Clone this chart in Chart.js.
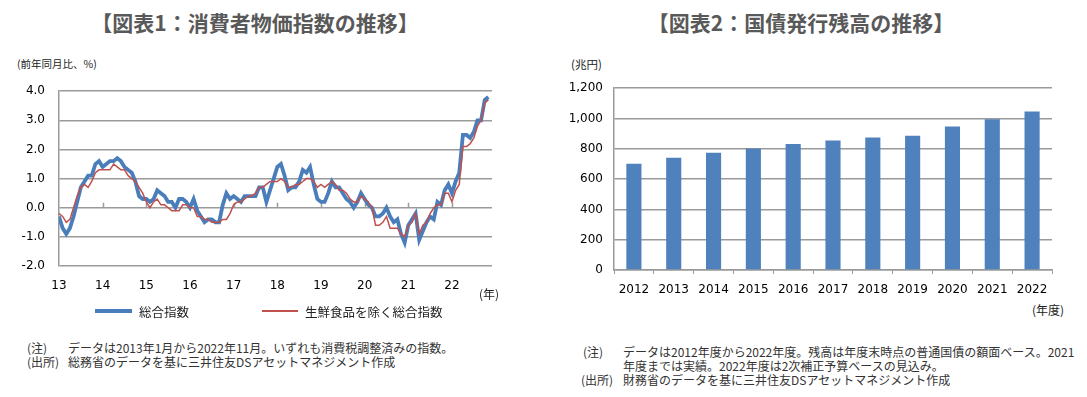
<!DOCTYPE html>
<html><head><meta charset="utf-8">
<script src="https://cdn.jsdelivr.net/npm/chart.js@4/dist/chart.umd.min.js"></script>
<style>
body{margin:0;width:1087px;height:397px;background:#fff;position:relative;font-family:"Noto Sans CJK JP",sans-serif;overflow:hidden}
.abs{position:absolute;white-space:nowrap}
.title{font-weight:bold;font-size:21px;color:#595959;top:8px;line-height:28px;text-align:center}
.note{font-size:12px;color:#333;line-height:14px}
</style></head><body>
<div class="abs title" style="left:0;width:510px">【図表1：消費者物価指数の推移】</div>
<div class="abs title" style="left:540px;width:522px">【図表2：国債発行残高の推移】</div>
<div class="abs" style="left:17px;top:56px;font-size:10.5px;color:#222">(前年同月比、%)</div>
<div class="abs" style="left:571px;top:56px;font-size:11.5px;color:#222">(兆円)</div>
<div class="abs" style="left:0;top:70px;width:540px;height:230px"><canvas id="c1" width="540" height="230"></canvas></div>
<div class="abs" style="left:540px;top:70px;width:547px;height:230px"><canvas id="c2" width="547" height="230"></canvas></div>
<div class="abs" style="left:479px;top:285px;font-size:12px;color:#222">(年)</div>
<div class="abs" style="left:1032px;top:301px;font-size:12px;color:#222">(年度)</div>
<div class="abs" style="left:95px;top:309px;width:37px;height:4px;background:#4A7EBB"></div>
<div class="abs" style="left:139px;top:302px;font-size:12.5px;color:#222">総合指数</div>
<div class="abs" style="left:262px;top:310px;width:36px;height:1.5px;background:#C0504D"></div>
<div class="abs" style="left:305px;top:302px;font-size:12.5px;color:#222">生鮮食品を除く総合指数</div>
<div class="abs note" style="left:27px;top:341px">(注)</div>
<div class="abs note" style="left:68px;top:341px">データは2013年1月から2022年11月。いずれも消費税調整済みの指数。</div>
<div class="abs note" style="left:27px;top:355px">(出所)</div>
<div class="abs note" style="left:68px;top:355px">総務省のデータを基に三井住友DSアセットマネジメント作成</div>
<div class="abs note" style="left:583px;top:345px">(注)</div>
<div class="abs note" style="left:623px;top:345px">データは2012年度から2022年度。残高は年度末時点の普通国債の額面ベース。2021<br>年度までは実績。2022年度は2次補正予算ベースの見込み。</div>
<div class="abs note" style="left:581px;top:373px">(出所)</div>
<div class="abs note" style="left:623px;top:373px">財務省のデータを基に三井住友DSアセットマネジメント作成</div>
<script>
// ---- Data: Chart 1 (monthly, Jan 2013 - Nov 2022) ----
const yearLabels = ['13','14','15','16','17','18','19','20','21','22'];
const cpiAll = [
 -0.3,-0.7,-0.9,-0.7,-0.3,0.2,0.7,0.9,1.1,1.1,1.5,1.6,
 1.4,1.5,1.6,1.6,1.7,1.6,1.4,1.3,1.2,0.9,0.4,0.3,
 0.3,0.2,0.3,0.6,0.5,0.4,0.2,0.2,0.0,0.3,0.3,0.2,
 0.0,0.3,-0.1,-0.3,-0.5,-0.4,-0.4,-0.5,-0.5,0.1,0.5,0.3,
 0.4,0.3,0.2,0.4,0.4,0.4,0.4,0.7,0.7,0.2,0.6,1.0,
 1.4,1.5,1.1,0.6,0.7,0.7,0.9,1.3,1.2,1.4,0.8,0.3,
 0.2,0.2,0.5,0.9,0.7,0.7,0.5,0.3,0.2,0.0,0.2,0.5,
 0.3,0.1,0.0,-0.3,-0.3,-0.2,0.0,-0.3,-0.5,-0.4,-0.9,-1.2,
 -0.6,-0.4,-0.2,-1.1,-0.8,-0.5,-0.3,-0.4,0.2,0.1,0.6,0.8,
 0.5,0.9,1.2,2.5,2.5,2.4,2.6,3.0,3.0,3.7,3.8];
const cpiCore = [
 -0.2,-0.3,-0.5,-0.4,0.0,0.4,0.7,0.8,0.7,0.9,1.2,1.3,
 1.3,1.3,1.3,1.5,1.4,1.3,1.3,1.1,1.0,0.9,0.7,0.5,
 0.2,0.0,0.2,0.3,0.1,0.1,0.0,-0.1,-0.1,-0.1,0.1,0.1,
 0.0,0.0,-0.3,-0.3,-0.4,-0.4,-0.5,-0.5,-0.5,-0.4,-0.4,-0.2,
 0.1,0.2,0.2,0.3,0.4,0.4,0.5,0.7,0.7,0.8,0.9,0.9,
 0.9,1.0,0.9,0.7,0.7,0.8,0.8,0.9,1.0,1.0,0.9,0.7,
 0.8,0.7,0.8,0.9,0.8,0.6,0.6,0.5,0.3,0.2,0.2,0.4,
 0.3,0.2,0.0,-0.6,-0.6,-0.5,-0.3,-0.7,-0.7,-0.7,-0.9,-1.0,
 -0.6,-0.5,-0.2,-0.9,-0.6,-0.5,-0.2,0.0,0.1,0.1,0.5,0.5,
 0.2,0.6,0.8,2.1,2.1,2.2,2.4,2.8,3.0,3.6,3.7];
// ---- Data: Chart 2 (fiscal years) ----
const fiscalYears = ['2012','2013','2014','2015','2016','2017','2018','2019','2020','2021','2022'];
const jgbOutstanding = [702,741,774,802,832,854,874,886,947,995,1047];

Chart.defaults.font.family = '"DejaVu Sans", Verdana, sans-serif';
Chart.defaults.color = '#000';
const GRID = '#9a9a9a';

const tickMarks = {
  id:'tickMarks',
  beforeDatasetsDraw(chart){
    const x = chart.scales.x, y = chart.scales.y, ctx = chart.ctx;
    const y0 = y.getPixelForValue(0);
    ctx.save(); ctx.strokeStyle = GRID; ctx.lineWidth = 1.5;
    for(let i=12;i<cpiAll.length;i+=12){
      const px = Math.round(x.getPixelForValue(i))+0.5;
      ctx.beginPath(); ctx.moveTo(px,y0); ctx.lineTo(px,y0-5); ctx.stroke();
    }
    ctx.restore();
  }
};

new Chart(document.getElementById('c1'),{
  type:'line',
  data:{datasets:[
    {label:'総合指数',data:cpiAll.map((v,i)=>({x:i,y:v})),borderColor:'#4A7EBB',borderWidth:3.8,pointRadius:0,tension:0,order:2},
    {label:'生鮮食品を除く総合指数',data:cpiCore.map((v,i)=>({x:i,y:v})),borderColor:'#C0504D',borderWidth:1.5,pointRadius:0,tension:0,order:1}
  ]},
  options:{
    responsive:false,animation:false,
    layout:{padding:{left:0,top:16,right:48,bottom:4}},
    plugins:{legend:{display:false},tooltip:{enabled:false}},
    scales:{
      x:{type:'linear',min:0,max:119,
        ticks:{stepSize:12,autoSkip:false,maxRotation:0,padding:5,font:{size:12},
          callback:(v)=> (v%12===0 && yearLabels[v/12]!==undefined) ? yearLabels[v/12] : ''},
        grid:{display:false},border:{display:false},
        afterFit:(s)=>{s.height=30;}},
      y:{min:-2,max:4,
        ticks:{stepSize:1,padding:14,font:{size:12},callback:(v)=>v.toFixed(1)},
        grid:{color:GRID,lineWidth:1.5,drawTicks:false},
        border:{display:true,color:GRID,width:1.5},
        afterFit:(s)=>{s.width=59;}}
    }
  },
  plugins:[tickMarks]
});

new Chart(document.getElementById('c2'),{
  type:'bar',
  data:{labels:fiscalYears,datasets:[{data:jgbOutstanding,backgroundColor:'#4F81BD',barPercentage:0.38,categoryPercentage:1}]},
  options:{
    responsive:false,animation:false,
    layout:{padding:{left:0,top:17,right:35,bottom:0}},
    plugins:{legend:{display:false},tooltip:{enabled:false}},
    scales:{
      x:{ticks:{padding:9,font:{size:12},maxRotation:0,autoSkip:false},
        grid:{display:true,drawOnChartArea:false,offset:true,tickLength:4,color:GRID,lineWidth:1},
        border:{display:true,color:GRID,width:1.5},
        afterFit:(s)=>{s.height=30;}},
      y:{min:0,max:1200,
        ticks:{stepSize:200,padding:11,font:{size:12},callback:(v)=>v.toLocaleString('en-US')},
        grid:{color:GRID,lineWidth:1.5,drawTicks:false},
        border:{display:true,color:GRID,width:1.5},
        afterFit:(s)=>{s.width=74;}}
    }
  }
});
</script>
</body></html>
